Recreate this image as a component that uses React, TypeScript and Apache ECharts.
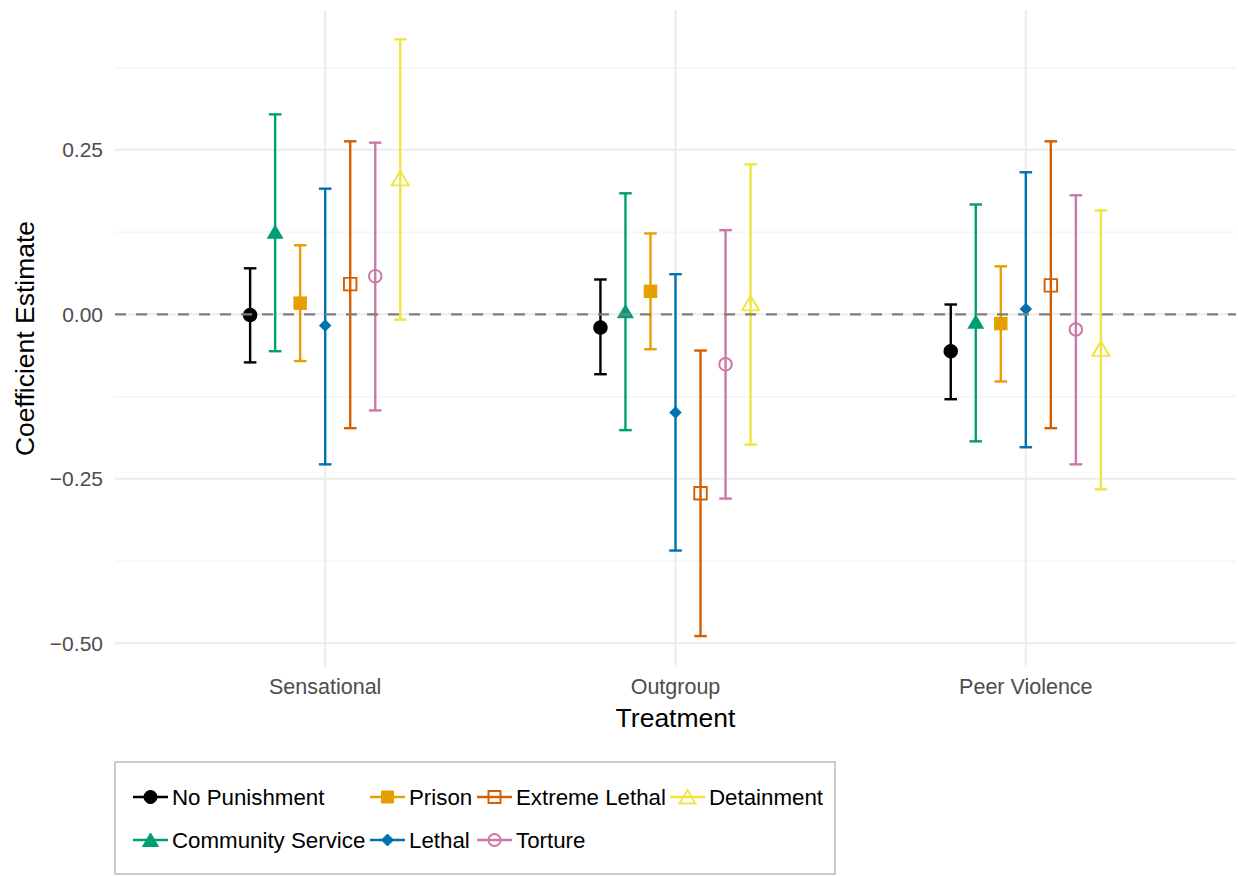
import React, { useEffect, useRef } from "react";
import * as echarts from "echarts";

const categories = ["Sensational", "Outgroup", "Peer Violence"];
const treatments = [
  "No Punishment",
  "Community Service",
  "Prison",
  "Lethal",
  "Extreme Lethal",
  "Torture",
  "Detainment",
];
// per treatment: values for [Sensational, Outgroup, Peer Violence]
const estNoPunishment = [-0.001, -0.02, -0.056];
const lowNoPunishment = [-0.073, -0.091, -0.129];
const highNoPunishment = [0.07, 0.053, 0.015];

const estCommunity = [0.126, 0.005, -0.011];
const lowCommunity = [-0.056, -0.176, -0.193];
const highCommunity = [0.304, 0.184, 0.167];

const estPrison = [0.017, 0.035, -0.014];
const lowPrison = [-0.071, -0.053, -0.102];
const highPrison = [0.105, 0.123, 0.073];

const estLethal = [-0.017, -0.149, 0.008];
const lowLethal = [-0.228, -0.359, -0.202];
const highLethal = [0.191, 0.061, 0.216];

const estExtreme = [0.046, -0.272, 0.044];
const lowExtreme = [-0.173, -0.489, -0.173];
const highExtreme = [0.263, -0.055, 0.263];

const estTorture = [0.058, -0.076, -0.023];
const lowTorture = [-0.146, -0.28, -0.228];
const highTorture = [0.261, 0.128, 0.181];

const estDetainment = [0.207, 0.017, -0.052];
const lowDetainment = [-0.008, -0.198, -0.266];
const highDetainment = [0.418, 0.228, 0.158];

const estimates = [estNoPunishment, estCommunity, estPrison, estLethal, estExtreme, estTorture, estDetainment];
const lowers = [lowNoPunishment, lowCommunity, lowPrison, lowLethal, lowExtreme, lowTorture, lowDetainment];
const uppers = [highNoPunishment, highCommunity, highPrison, highLethal, highExtreme, highTorture, highDetainment];

const majorTicks = [-0.5, -0.25, 0, 0.25];
const minorTicks = [-0.375, -0.125, 0.125, 0.375];

const colors = ["#000000", "#009E73", "#E69F00", "#0072B2", "#D55E00", "#CC79A7", "#F0E442"];
const symbols = ["circle", "triangle", "rect", "diamond", "rect", "circle", "triangle"];
const filled = [true, true, true, true, false, false, false];
const symbolSizes: any[] = [14.5, [17, 14.5], 13.5, [12.5, 12.5], 12.5, 12.5, [17, 14.5]];

const FONT = "'Liberation Sans', Arial, Helvetica, sans-serif";
const Y_MIN = -0.536;
const Y_MAX = 0.4626;
const X_MIN = 0.4;
const X_MAX = 3.6;
const DODGE = 0.5;

function fmt(v: number) {
  const s = Math.abs(v).toFixed(2);
  return v < 0 ? "\u2212" + s : s;
}

function legendSymbol(i: number, cx: number, cy: number) {
  const c = colors[i];
  const fillStyle = filled[i] ? { fill: c, stroke: c, lineWidth: 1 } : { fill: "none", stroke: c, lineWidth: 1.9 };
  const s = symbols[i];
  if (s === "circle") return { type: "circle", shape: { cx, cy, r: filled[i] ? 6.5 : 6 }, style: fillStyle };
  if (s === "rect") return { type: "rect", shape: { x: cx - 6, y: cy - 6, width: 12, height: 12 }, style: fillStyle };
  if (s === "diamond")
    return { type: "polygon", shape: { points: [[cx, cy - 6], [cx + 6, cy], [cx, cy + 6], [cx - 6, cy]] }, style: fillStyle };
  return {
    type: "polygon",
    shape: { points: [[cx, cy - 7], [cx + 8, cy + 6.5], [cx - 8, cy + 6.5]] },
    style: fillStyle,
  };
}

export default function App() {
  const ref = useRef<HTMLDivElement>(null);
  useEffect(() => {
    if (!ref.current) return;
    const chart = echarts.init(ref.current, null, { renderer: "svg" });

    const n = treatments.length;
    const offset = (k: number) => (k - (n - 1) / 2) * (DODGE / n);

    const series: any[] = [];

    // gridlines
    const hGrid = [
      ...minorTicks.map((v) => ({ value: [1, v], major: false })),
      ...majorTicks.map((v) => ({ value: [1, v], major: true })),
    ];
    series.push({
      type: "custom",
      silent: true,
      z: 0,
      data: hGrid.map((d) => d.value),
      renderItem: (params: any, api: any) => {
        const cs = params.coordSys;
        const y = api.coord([1, api.value(1)])[1];
        const major = hGrid[params.dataIndex].major;
        return {
          type: "line",
          shape: { x1: cs.x, y1: y, x2: cs.x + cs.width, y2: y },
          style: { stroke: major ? "#ebebeb" : "#f3f3f3", lineWidth: major ? 2 : 1.2 },
        };
      },
    });
    series.push({
      type: "custom",
      silent: true,
      z: 0,
      data: categories.map((_, i) => [i + 1, 0]),
      renderItem: (params: any, api: any) => {
        const cs = params.coordSys;
        const x = api.coord([api.value(0), 0])[0];
        return {
          type: "line",
          shape: { x1: x, y1: cs.y, x2: x, y2: cs.y + cs.height },
          style: { stroke: "#ebebeb", lineWidth: 2 },
        };
      },
    });

    treatments.forEach((name, k) => {
      const color = colors[k];
      const barData = categories.map((_, i) => [i + 1 + offset(k), lowers[k][i], uppers[k][i]]);
      series.push({
        type: "custom",
        name,
        silent: true,
        z: 2,
        encode: { x: 0, y: [1, 2] },
        data: barData,
        renderItem: (params: any, api: any) => {
          const lo = api.coord([api.value(0), api.value(1)]);
          const hi = api.coord([api.value(0), api.value(2)]);
          const hw = 6.3;
          const st = { stroke: color, lineWidth: 2.4 };
          return {
            type: "group",
            children: [
              { type: "line", shape: { x1: lo[0], y1: lo[1], x2: hi[0], y2: hi[1] }, style: st },
              { type: "line", shape: { x1: lo[0] - hw, y1: lo[1], x2: lo[0] + hw, y2: lo[1] }, style: st },
              { type: "line", shape: { x1: hi[0] - hw, y1: hi[1], x2: hi[0] + hw, y2: hi[1] }, style: st },
            ],
          };
        },
      });
      series.push({
        type: "scatter",
        name,
        silent: true,
        z: 3,
        symbol: symbols[k],
        symbolSize: symbolSizes[k],
        itemStyle: filled[k]
          ? { color, borderWidth: 0, opacity: 1 }
          : { color: "none", borderColor: color, borderWidth: 1.9, opacity: 1 },
        data: categories.map((_, i) => [i + 1 + offset(k), estimates[k][i]]),
      });
    });

    // zero reference line
    series.push({
      type: "custom",
      silent: true,
      z: 10,
      data: [[1, 0]],
      renderItem: (params: any, api: any) => {
        const cs = params.coordSys;
        const y = api.coord([1, 0])[1];
        return {
          type: "line",
          shape: { x1: cs.x, y1: y, x2: cs.x + cs.width, y2: y },
          style: { stroke: "#7f7f7f", lineWidth: 2.3, lineDash: [11, 10] },
        };
      },
    });

    // legend as graphics
    const legendEls: any[] = [
      {
        type: "rect",
        shape: { x: 115, y: 762, width: 720, height: 112 },
        style: { fill: "#ffffff", stroke: "#cccccc", lineWidth: 2 },
        silent: true,
      },
    ];
    const colKeyX = [133, 370, 477, 670];
    const rowY = [797, 840];
    treatments.forEach((name, k) => {
      const col = Math.floor(k / 2);
      const row = k % 2;
      const x0 = colKeyX[col];
      const y0 = rowY[row];
      legendEls.push({
        type: "line",
        shape: { x1: x0, y1: y0, x2: x0 + 35, y2: y0 },
        style: { stroke: colors[k], lineWidth: 2.4 },
        silent: true,
      });
      legendEls.push({ ...legendSymbol(k, x0 + 17.5, y0), silent: true });
      legendEls.push({
        type: "text",
        x: x0 + 39,
        y: y0,
        style: {
          text: name,
          fill: "#000000",
          font: `22.3px ${FONT}`,
          verticalAlign: "middle",
          align: "left",
        },
        silent: true,
      });
    });

    chart.setOption({
      animation: false,
      backgroundColor: "#ffffff",
      grid: { left: 115, right: 2, top: 10, bottom: 209, containLabel: false },
      xAxis: {
        type: "value",
        min: X_MIN,
        max: X_MAX,
        name: "Treatment",
        nameLocation: "middle",
        nameGap: 37,
        nameTextStyle: { fontSize: 26.5, color: "#000000", fontFamily: FONT },
        axisLine: { show: false },
        axisTick: { show: false },
        splitLine: { show: false },
        axisLabel: {
          customValues: [1, 2, 3],
          formatter: (v: number) => categories[Math.round(v) - 1] ?? "",
          fontSize: 21.5,
          color: "#4d4d4d",
          fontFamily: FONT,
          margin: 9,
        },
      },
      yAxis: {
        type: "value",
        min: Y_MIN,
        max: Y_MAX,
        name: "Coefficient Estimate",
        nameLocation: "middle",
        nameGap: 77,
        nameRotate: 90,
        nameTextStyle: { fontSize: 26.5, color: "#000000", fontFamily: FONT },
        axisLine: { show: false },
        axisTick: { show: false },
        splitLine: { show: false },
        axisLabel: {
          customValues: majorTicks,
          formatter: (v: number) => fmt(v),
          fontSize: 21,
          color: "#4d4d4d",
          fontFamily: FONT,
          margin: 12,
        },
      },
      graphic: legendEls,
      series,
    });

    return () => chart.dispose();
  }, []);

  return <div ref={ref} style={{ position: "fixed", left: 0, top: 0, width: 1238, height: 876 }} />;
}
